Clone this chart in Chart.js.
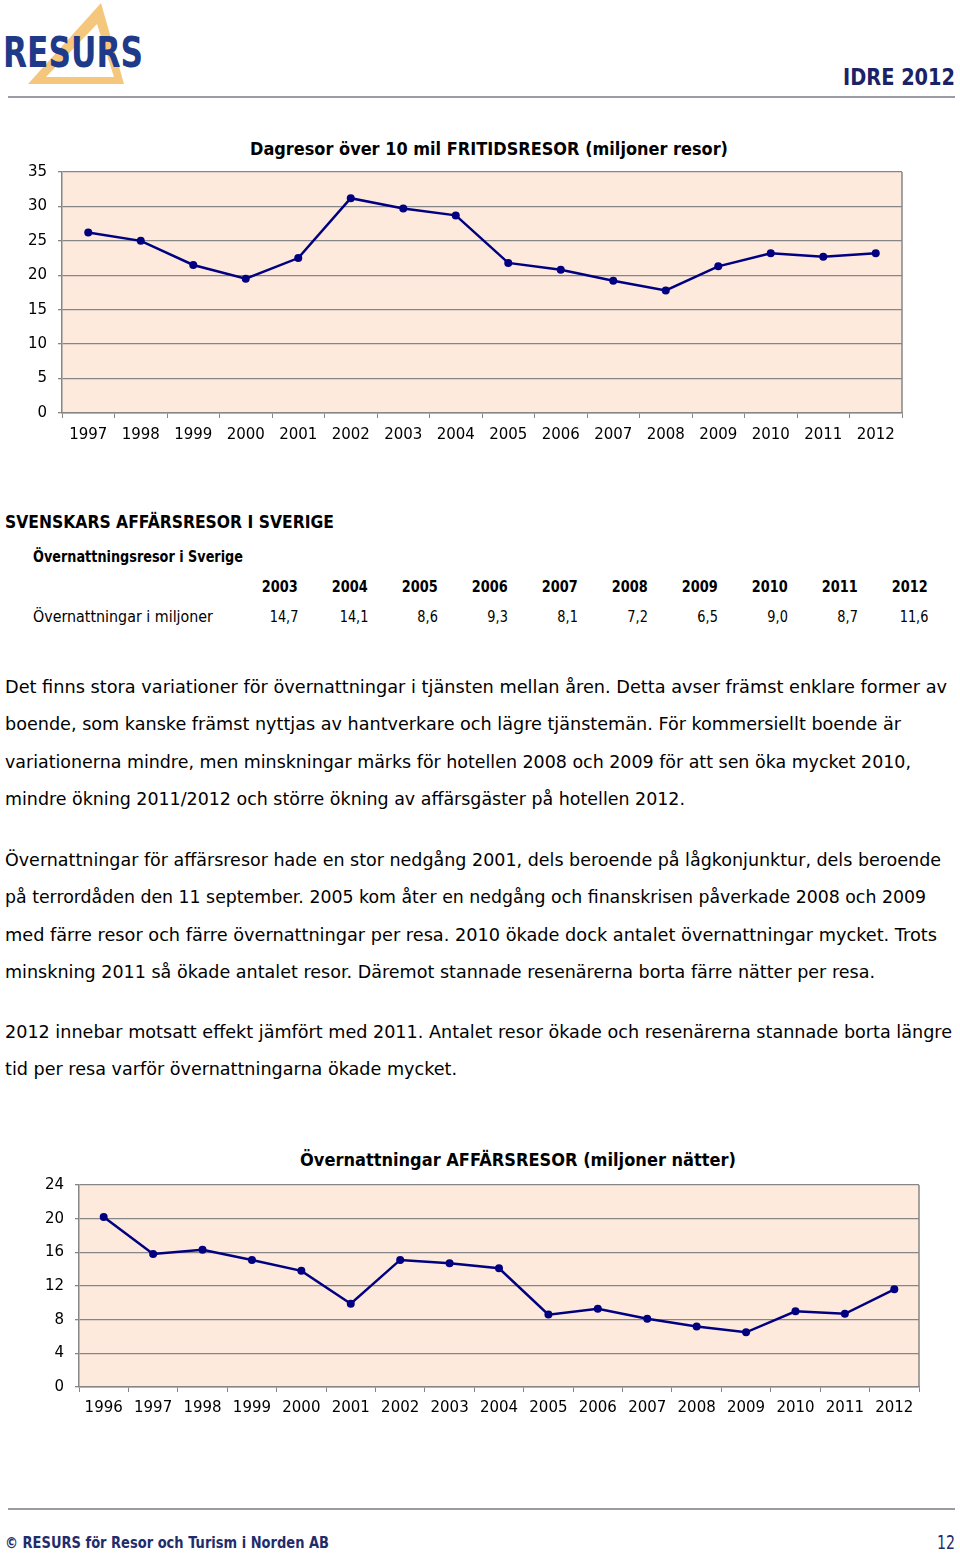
<!DOCTYPE html>
<html lang="sv">
<head>
<meta charset="utf-8">
<script src="https://cdn.jsdelivr.net/npm/chart.js@4"></script>
<style>
  html, body { margin: 0; padding: 0; background: #fff; }
  body { width: 960px; height: 1556px; position: relative; overflow: hidden; font-family: "DejaVu Sans", sans-serif; color: #000; }
  .t { position: absolute; white-space: nowrap; transform-origin: left center; }
  .b { font-weight: bold; }
  .cell { position: absolute; white-space: nowrap; transform-origin: right center; font-size: 15px; line-height: 18px; transform: scaleX(0.86); }
  .rule { position: absolute; left: 8px; width: 947px; height: 2px; background: #9b9ba5; }
  canvas { position: absolute; left: 0; }
</style>
</head>
<body>
<svg width="150" height="92" style="position:absolute;left:0;top:0">
  <path d="M101,3 L28,84 L124,84 Z M97,24 L46,77 L114,77 Z" fill="#f4c77c" fill-rule="evenodd"/>
  <text x="3" y="67" font-family="DejaVu Sans" font-weight="bold" font-size="42" fill="#1f3a89" textLength="140" lengthAdjust="spacingAndGlyphs">RESURS</text>
</svg>
<div class="t b" data-w="112" style="left:843px;top:63px;font-size:23px;line-height:28px;color:#1b2266">IDRE 2012</div>
<div class="rule" style="top:96px"></div>

<div class="t b" data-w="478" style="left:250px;top:138px;font-size:18px;line-height:22px">Dagresor över 10 mil FRITIDSRESOR (miljoner resor)</div>
<canvas id="fritid" width="960" height="330" style="top:130px"></canvas>

<div class="t b" data-w="329" style="left:5px;top:511px;font-size:18px;line-height:22px">SVENSKARS AFFÄRSRESOR I SVERIGE</div>
<div class="t b" data-w="210" style="left:33px;top:548px;font-size:15px;line-height:18px">Övernattningsresor i Sverige</div>
<div class="t" data-w="180" style="left:33px;top:608px;font-size:15px;line-height:18px">Övernattningar i miljoner</div>
<div id="table"></div>

<div id="text"></div>

<div class="t b" data-w="436" style="left:300px;top:1149px;font-size:18px;line-height:22px">Övernattningar AFFÄRSRESOR (miljoner nätter)</div>
<canvas id="affar" width="960" height="290" style="top:1140px"></canvas>

<div class="rule" style="top:1508px"></div>
<div class="t b" data-w="324" style="left:5px;top:1534px;font-size:15px;line-height:18px;color:#1f2d6b">© RESURS för Resor och Turism i Norden AB</div>
<div class="t" data-w="18" style="left:937px;top:1530px;font-size:20px;line-height:24px;color:#1f2d6b">12</div>

<script>
// Dagresor över 10 mil, fritidsresor (miljoner resor)
const fritidYears = ['1997', '1998', '1999', '2000', '2001', '2002', '2003', '2004', '2005', '2006', '2007', '2008', '2009', '2010', '2011', '2012'];
const fritidTrips = [26.2, 25.0, 21.5, 19.5, 22.5, 31.2, 29.7, 28.7, 21.8, 20.8, 19.2, 17.8, 21.3, 23.2, 22.7, 23.2];
const fritidMax = 35, fritidStep = 5;

// Övernattningar affärsresor (miljoner nätter)
const affarYears = ['1996', '1997', '1998', '1999', '2000', '2001', '2002', '2003', '2004', '2005', '2006', '2007', '2008', '2009', '2010', '2011', '2012'];
const affarNights = [20.2, 15.8, 16.3, 15.1, 13.8, 9.9, 15.1, 14.7, 14.1, 8.6, 9.3, 8.1, 7.2, 6.5, 9.0, 8.7, 11.6];
const affarMax = 24, affarStep = 4;

// table shows 2003-2012
const tableFrom = affarYears.indexOf('2003');

const paragraphs = [
  [['Det finns stora variationer för övernattningar i tjänsten mellan åren. Detta avser främst enklare former av', 942, 687],
   ['boende, som kanske främst nyttjas av hantverkare och lägre tjänstemän. För kommersiellt boende är', 896, 724],
   ['variationerna mindre, men minskningar märks för hotellen 2008 och 2009 för att sen öka mycket 2010,', 906, 762],
   ['mindre ökning 2011/2012 och större ökning av affärsgäster på hotellen 2012.', 680, 799]],
  [['Övernattningar för affärsresor hade en stor nedgång 2001, dels beroende på lågkonjunktur, dels beroende', 936, 860],
   ['på terrordåden den 11 september. 2005 kom åter en nedgång och finanskrisen påverkade 2008 och 2009', 921, 897],
   ['med färre resor och färre övernattningar per resa. 2010 ökade dock antalet övernattningar mycket. Trots', 932, 935],
   ['minskning 2011 så ökade antalet resor. Däremot stannade resenärerna borta färre nätter per resa.', 870, 972]],
  [['2012 innebar motsatt effekt jämfört med 2011. Antalet resor ökade och resenärerna stannade borta längre', 947, 1032],
   ['tid per resa varför övernattningarna ökade mycket.', 452, 1069]]
];

const textDiv = document.getElementById('text');
paragraphs.forEach(p => p.forEach(([s, w, y]) => {
  let d = document.createElement('div');
  d.className = 't';
  d.dataset.w = w;
  d.style.cssText = 'left:5px;top:' + (y - 11) + 'px;font-size:18px;line-height:22px';
  d.textContent = s;
  textDiv.appendChild(d);
}));

const tableDiv = document.getElementById('table');
affarYears.slice(tableFrom).forEach((yr, i) => {
  const right = 960 - (298 + i * 70);
  let h = document.createElement('div');
  h.className = 'cell b';
  h.style.cssText = 'right:' + right + 'px;top:578px';
  h.textContent = yr;
  tableDiv.appendChild(h);
  let v = document.createElement('div');
  v.className = 'cell';
  v.style.cssText = 'right:' + right + 'px;top:608px';
  v.textContent = affarNights[tableFrom + i].toFixed(1).replace('.', ',');
  tableDiv.appendChild(v);
});

function fit() {
  document.querySelectorAll('[data-w]').forEach(el => {
    el.style.transform = 'none';
    const w = el.getBoundingClientRect().width;
    el.style.transform = 'scaleX(' + (el.dataset.w / w) + ')';
  });
}
fit();
if (document.fonts) document.fonts.ready.then(fit);

const plotBox = {
  id: 'plotBox',
  beforeDraw(c) {
    const a = c.chartArea, g = c.ctx;
    g.save();
    g.fillStyle = '#fdeadc';
    g.fillRect(a.left, a.top, a.right - a.left, a.bottom - a.top);
    g.restore();
  },
  beforeDatasetsDraw(c) {
    const a = c.chartArea, g = c.ctx;
    g.save();
    g.strokeStyle = '#868686';
    g.lineWidth = 1.5;
    g.beginPath();
    g.moveTo(a.right, a.top);
    g.lineTo(a.right, a.bottom);
    g.stroke();
    g.restore();
  }
};

function lineChart(id, labels, data, max, step, yWidth, xHeight, pad, xPad) {
  return new Chart(document.getElementById(id), {
    type: 'line',
    data: { labels, datasets: [{ data, borderColor: '#000080', backgroundColor: '#000080', borderWidth: 2.5, pointRadius: 4, pointHoverRadius: 4, pointBorderWidth: 0, tension: 0 }] },
    options: {
      responsive: false, animation: false, devicePixelRatio: 1,
      layout: { padding: pad },
      plugins: { legend: { display: false }, tooltip: { enabled: false } },
      scales: {
        x: {
          offset: true,
          grid: { offset: true, drawOnChartArea: false, drawTicks: true, tickLength: 5, color: '#868686' },
          border: { color: '#868686', width: 1.5 },
          ticks: { color: '#000', font: { family: 'DejaVu Sans', size: 15 }, padding: xPad, maxRotation: 0, autoSkip: false },
          afterFit: s => { s.height = xHeight; }
        },
        y: {
          min: 0, max,
          grid: { color: '#868686', lineWidth: 1.3, tickLength: 4 },
          border: { color: '#868686', width: 1.5 },
          ticks: { stepSize: step, color: '#000', font: { family: 'DejaVu Sans', size: 15 }, padding: 11 },
          afterFit: s => { s.width = yWidth; }
        }
      }
    },
    plugins: [plotBox]
  });
}

lineChart('fritid', fritidYears, fritidTrips, fritidMax, fritidStep, 62, 47, { top: 42, right: 58, left: 0, bottom: 0 }, 8);
lineChart('affar', affarYears, affarNights, affarMax, affarStep, 79, 43, { top: 45, right: 41, left: 0, bottom: 0 }, 7);
</script>
</body>
</html>
